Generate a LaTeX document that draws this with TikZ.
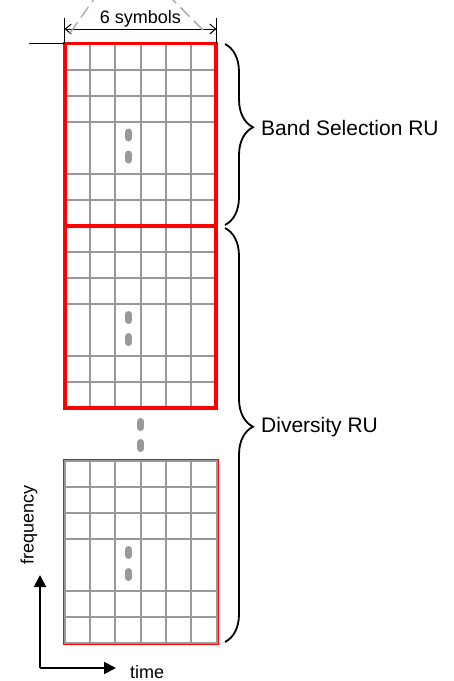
\documentclass[tikz,border=0pt]{standalone}
\usepackage{fontspec}
\setmainfont{Liberation Sans}
\usetikzlibrary{arrows.meta, positioning, decorations.pathreplacing}

\definecolor{gridgray}{RGB}{153,153,153}
\definecolor{dashgray}{RGB}{175,175,175}

% grid of one resource unit, #1 = y of its top edge
\newcommand{\rugrid}[1]{%
  \foreach \c in {1,...,5}
    \draw[gridln] (65+25.17*\c,#1) -- ++(0,182);
  \foreach \r in {1,2,3,5,6}
    \draw[gridln] (65,#1+26*\r) -- ++(151,0);
  \draw[dotln] (128.5,#1+88.5) -- ++(0,6);
  \draw[dotln] (128.5,#1+110.5) -- ++(0,6);
}

\begin{document}
\begin{tikzpicture}[x=1pt, y=-1pt,
    gridln/.style={draw=gridgray, line width=2pt},
    dotln/.style={draw=gridgray, line width=7pt, line cap=round},
    rubox/.style={draw=red, line width=3.2pt},
    dimln/.style={line width=1pt,
                  {Straight Barb[length=6pt,width=10pt]}-{Straight Barb[length=6pt,width=10pt]}},
    axis/.style={line width=2pt, -{Triangle[length=12pt,width=12pt]}},
    brc/.style={decorate, decoration={brace, amplitude=28pt, aspect=#1}, line width=1.8pt},
    lbl/.style={font=\fontsize{18}{20}\selectfont},
    rulbl/.style={font=\fontsize{21}{24}\selectfont, inner sep=1pt}]

    \useasboundingbox (0,0) rectangle (454,681);

    % the three resource units
    \rugrid{43.5}
    \rugrid{226}
    \rugrid{461}
    \draw[rubox] (65,43.5) rectangle (216,226);
    \draw[rubox] (65,226) rectangle (216,408);
    \draw[gridln] (65,461) rectangle (216.5,643);
    \draw[red, line width=1.2pt] (63.2,459.2) rectangle (218.3,644.8);

    % more units in between
    \draw[dotln] (140.7,421.5) -- ++(0,6);
    \draw[dotln] (140.7,442.5) -- ++(0,6);

    % width of one unit
    \coordinate (dimL) at (64.5,29);
    \coordinate (dimR) at (216.5,29);
    \draw[line width=1pt] (64.5,18) -- (64.5,43.5);
    \draw[line width=1pt] (216.5,18) -- (216.5,43.5);
    \draw[dimln] (dimL) -- node[lbl, above, inner sep=1pt] (sym) {6 symbols} (dimR);
    \draw[dashgray, line width=1.5pt, dash pattern=on 13pt off 6pt] (70,33) -- (94,-1);
    \draw[dashgray, line width=1.5pt, dash pattern=on 13pt off 6pt] (203,30) -- (172,-1);
    \draw[line width=1pt] (29,43.5) -- (64.5,43.5);

    % braces
    \coordinate (b1top) at (225,44);
    \coordinate (b1bot) at (225,225);
    \coordinate (b2top) at (225,228);
    \coordinate (b2bot) at (225,642);
    \coordinate (tip1) at (253,127.7);
    \coordinate (tip2) at (253,426.7);
    \draw[brc=0.46] (b1top) -- (b1bot);
    \draw[brc=0.48] (b2top) -- (b2bot);
    \node[rulbl, right=7pt of tip1] (bsel) {Band Selection RU};
    \node[rulbl, right=7pt of tip2] (div) {Diversity RU};

    % time / frequency axes
    \coordinate (orig) at (40,668);
    \coordinate (ftip) at (40,575);
    \coordinate (ttip) at (116,668);
    \draw[axis] (orig) -- (ftip);
    \draw[axis] (orig) -- (ttip);
    \node[lbl, rotate=90] (freq) at (29,525) {frequency};
    \node[lbl, anchor=base west, inner sep=0pt] (time) at (130,678) {time};
\end{tikzpicture}
\end{document}
